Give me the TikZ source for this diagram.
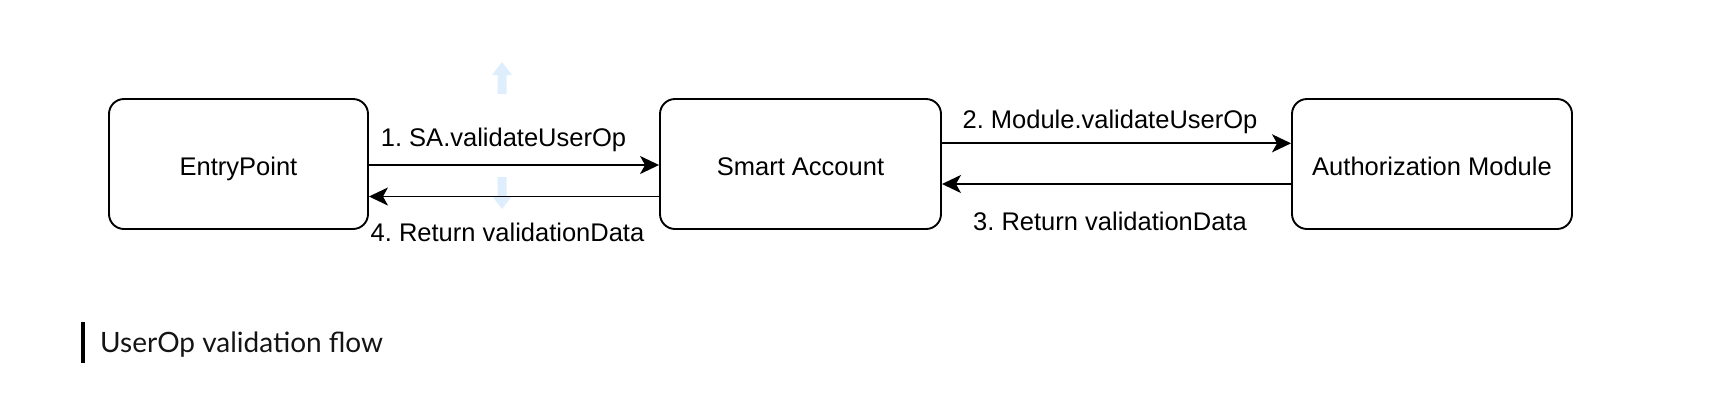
\documentclass[tikz,border=0pt]{standalone}
\usepackage{fontspec}
\setmainfont{Liberation Sans}
\newfontfamily\capfont{Lato}
\usetikzlibrary{arrows.meta}
\frenchspacing
\definecolor{faintblue}{RGB}{222,238,252}
\definecolor{captext}{RGB}{20,20,20}
\tikzset{
  box/.style={draw=black, line width=1.9pt, rounded corners=15pt, fill=white,
    minimum height=130pt, inner sep=0pt, text height=22pt, text depth=0pt,
    font=\fontsize{25.5}{30}\selectfont\frenchspacing},
  arr/.style={draw=black, line width=1.9pt,
    -{Stealth[length=19pt,width=18pt,inset=5pt]}},
  lbl/.style={anchor=base, inner sep=0pt, font=\fontsize{25.5}{30}\selectfont\frenchspacing},
  ghost/.style={fill=faintblue, draw=none},
}
\begin{document}
\begin{tikzpicture}[x=1pt,y=-1pt]
\useasboundingbox (0,0) rectangle (1712,416);
% faint hover arrows
\fill[ghost] (497.5,94) -- (497.5,75) -- (492,75) -- (502,62) -- (512,75) -- (506.5,75) -- (506.5,94) -- cycle;
\fill[ghost] (497.5,177) -- (497.5,196) -- (492,196) -- (502,209) -- (512,196) -- (506.5,196) -- (506.5,177) -- cycle;
% boxes
\node[box, minimum width=259pt] (ep) at (238.5,164) {EntryPoint};
\node[box, minimum width=281pt] (sa) at (800.5,164) {Smart Account};
\node[box, minimum width=280pt] (am) at (1432,164) {Authorization Module};
% connectors
\draw[arr] ([yshift=-1pt]ep.east) -- ([yshift=-1pt]sa.west);
\draw[arr] ([yshift=-32.5pt]sa.west) -- ([yshift=-32.5pt]ep.east);
\draw[arr] ([yshift=20.7pt]sa.east) -- ([yshift=20.7pt]am.west);
\draw[arr] ([yshift=-20pt]am.west) -- ([yshift=-20pt]sa.east);
% labels
\node[lbl] (l1) at (503.5,146.7) {1. SA.validateUserOp};
\node[lbl] (l4) at (507.5,241.7) {4. Return validationData};
\node[lbl] (l2) at (1110,128) {2. Module.validateUserOp};
\node[lbl] (l3) at (1110,230) {3. Return validationData};
% caption
\fill[black] (81,322) rectangle (84.5,363);
\node[anchor=base west, inner sep=0pt, text=captext, font=\capfont\fontsize{28}{33}\selectfont] (cap) at (100,352.3) {UserOp validation flow};
\end{tikzpicture}
\end{document}
